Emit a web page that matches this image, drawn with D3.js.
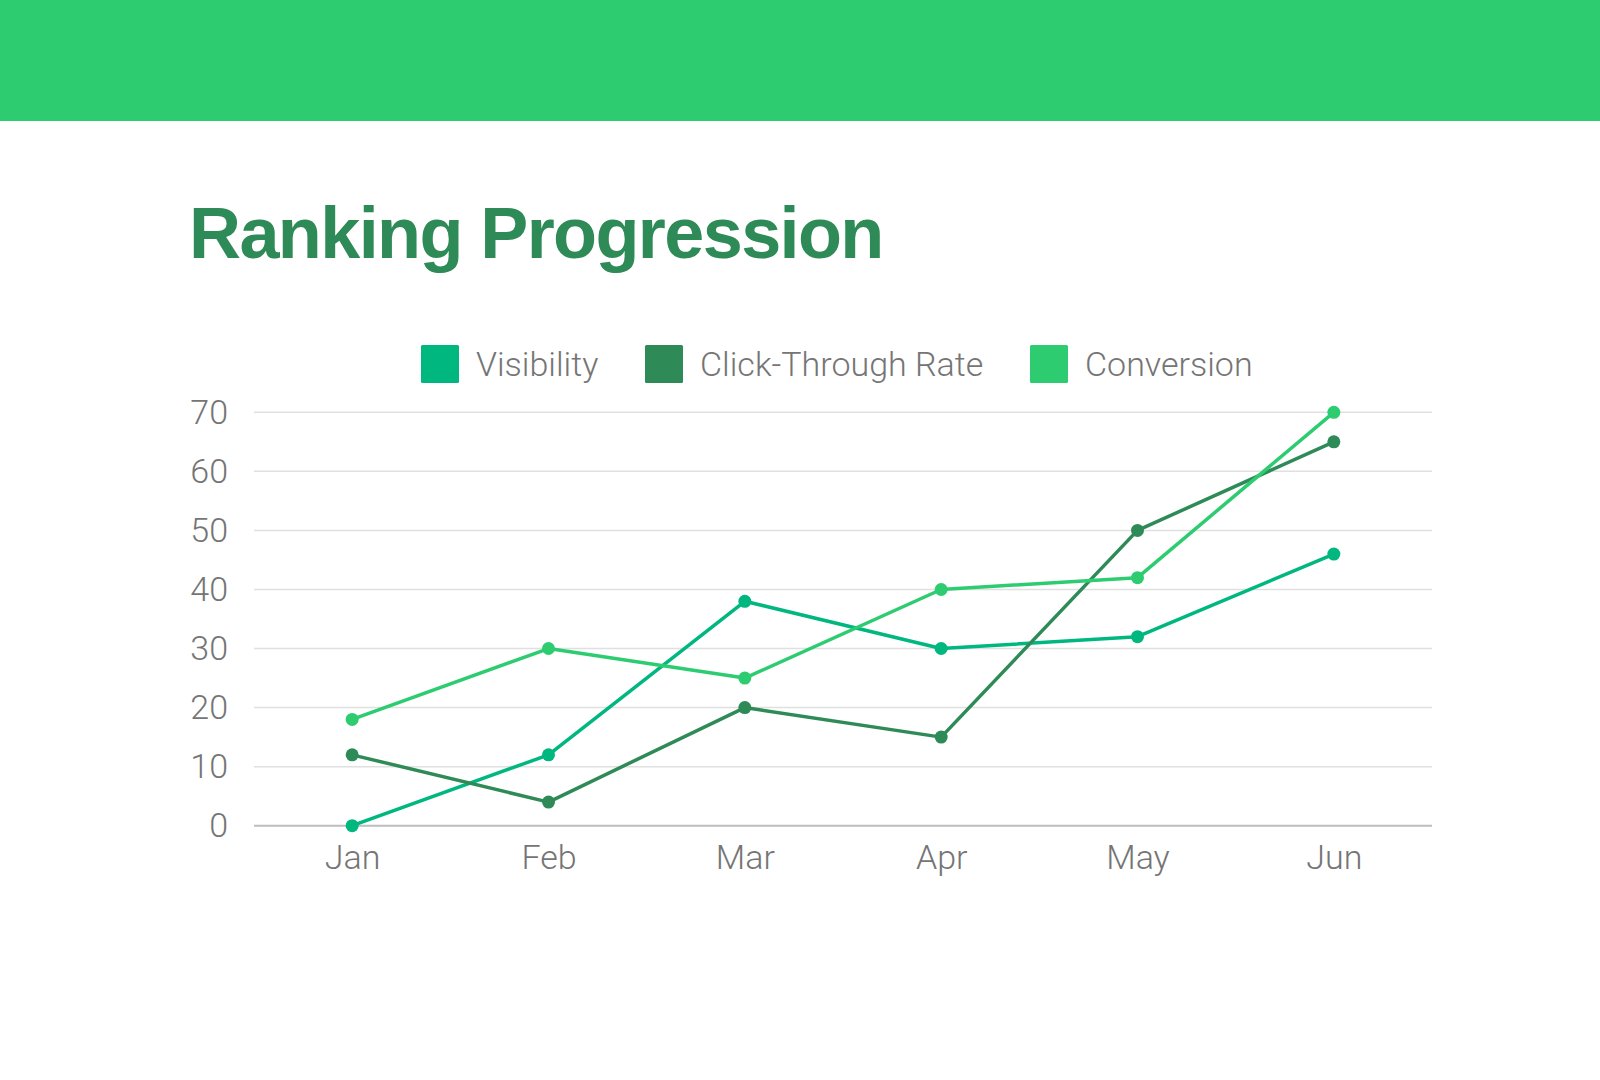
<!DOCTYPE html>
<html>
<head>
<meta charset="utf-8">
<script src="https://cdn.jsdelivr.net/npm/d3@7"></script>
<style>
  html, body { margin: 0; padding: 0; background: #ffffff; }
  svg { display: block; }
</style>
</head>
<body>
<svg id="chart" width="1600" height="1080"></svg>
<script>
const months = ["Jan", "Feb", "Mar", "Apr", "May", "Jun"];
const visibility = [0, 12, 38, 30, 32, 46];
const clickThrough = [12, 4, 20, 15, 50, 65];
const conversion = [18, 30, 25, 40, 42, 70];
const yTicks = [0, 10, 20, 30, 40, 50, 60, 70];
const seriesNames = ["Visibility", "Click-Through Rate", "Conversion"];
const seriesColors = ["#00b77f", "#2e8b57", "#2ecc71"];

(function () {
const series = [visibility, clickThrough, conversion].map((vals, i) => ({
  name: seriesNames[i], color: seriesColors[i],
  values: vals.map((v, j) => ({ month: months[j], value: v }))
}));

const svg = d3.select("#chart");
const W = 1600;

// Top banner
svg.append("rect").attr("x", 0).attr("y", 0).attr("width", W).attr("height", 121).attr("fill", "#2ecc71");

// Title
svg.append("text")
  .attr("x", 189).attr("y", 258)
  .attr("font-family", "'Liberation Sans', Arial, sans-serif")
  .attr("font-weight", "bold")
  .attr("font-size", 72)
  .attr("letter-spacing", "-1.6px")
  .attr("fill", "#2e8b57")
  .text("Ranking Progression");

const pLeft = 254, pRight = 1432, pTop = 412.3, pBottom = 825.7;

const x = d3.scalePoint().domain(months).range([pLeft, pRight]).padding(0.5);
const y = d3.scaleLinear().domain([0, 70]).range([pBottom, pTop]);

const textColor = "#757575";
const font = "Roboto, 'Noto Sans', sans-serif";
const fs = 34;

// Grid lines
svg.append("g").selectAll("line").data(yTicks.filter(d => d !== 0)).join("line")
  .attr("x1", pLeft).attr("x2", pRight)
  .attr("y1", d => y(d)).attr("y2", d => y(d))
  .attr("stroke", "#e0e0e0").attr("stroke-width", 1.5);

// Y axis
const yAxis = svg.append("g").attr("transform", `translate(${pLeft},0)`)
  .call(d3.axisLeft(y).tickValues(yTicks).tickSize(0).tickPadding(26));
yAxis.select(".domain").remove();
yAxis.selectAll("text")
  .attr("font-family", font).attr("font-weight", 300)
  .attr("font-size", fs).attr("fill", textColor);

// X axis
const xAxis = svg.append("g").attr("transform", `translate(0,${pBottom})`)
  .call(d3.axisBottom(x).tickSize(0).tickPadding(19));
xAxis.select(".domain").attr("stroke", "#bdbdbd").attr("stroke-width", 2)
  .attr("d", `M${pLeft},0H${pRight}`);
xAxis.selectAll("text")
  .attr("font-family", font).attr("font-weight", 300)
  .attr("font-size", fs).attr("fill", textColor);

// Lines
const line = d3.line().x(d => x(d.month)).y(d => y(d.value));
const g = svg.append("g");
series.forEach(s => {
  g.append("path").datum(s.values)
    .attr("d", line).attr("fill", "none")
    .attr("stroke", s.color).attr("stroke-width", 3.5)
    .attr("stroke-linejoin", "round");
});
series.forEach(s => {
  g.append("g").selectAll("circle").data(s.values).join("circle")
    .attr("cx", d => x(d.month)).attr("cy", d => y(d.value))
    .attr("r", 6.5).attr("fill", s.color);
});

// Legend
const legendX = [421, 645, 1030];
const legend = svg.append("g");
series.forEach((s, i) => {
  legend.append("rect")
    .attr("x", legendX[i]).attr("y", 345).attr("width", 38).attr("height", 38)
    .attr("rx", 1.5)
    .attr("fill", s.color);
  legend.append("text")
    .attr("x", legendX[i] + 55).attr("y", 364)
    .attr("dominant-baseline", "central")
    .attr("font-family", font).attr("font-weight", 300)
    .attr("font-size", fs).attr("fill", textColor)
    .text(s.name);
});
})();
</script>
</body>
</html>
